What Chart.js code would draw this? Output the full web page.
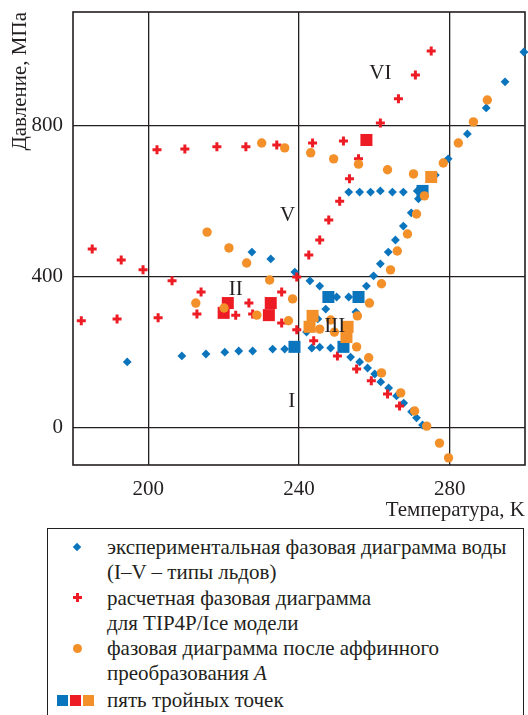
<!DOCTYPE html>
<html>
<head>
<meta charset="utf-8">
<script src="https://cdn.jsdelivr.net/npm/chart.js@4.4.0/dist/chart.umd.min.js"></script>
<style>
  body { margin: 0; background: #fff; font-family: "Liberation Serif", "Times New Roman", serif; color: #231f20; }
  #wrap { position: relative; width: 528px; height: 715px; overflow: hidden; }
  #box { position: absolute; left: 0; top: 0; width: 528px; height: 526px; }
  #legend { position: absolute; left: 47px; top: 528px; width: 477px; height: 220px; border: 1.5px solid #231f20; box-sizing: border-box; }
  .row { position: absolute; left: 59px; font-size: 21px; line-height: 25px; white-space: nowrap; }
  .mk { position: absolute; }
  .dia { width: 6px; height: 6px; background: #0a74bd; transform: rotate(45deg); }
  .crs1 { width: 9px; height: 3px; background: #ed1c24; }
  .crs2 { width: 3px; height: 9px; background: #ed1c24; }
  .dot { width: 9px; height: 9px; border-radius: 50%; background: #f4902a; }
  .sq { width: 11px; height: 11px; }
</style>
</head>
<body>
<div id="wrap">
  <div id="box"><canvas id="phase"></canvas></div>
  <div id="legend">
    <div class="mk dia" style="left:26px;top:15px"></div>
    <div class="row" style="top:6px">экспериментальная фазовая диаграмма воды<br>(I–V – типы льдов)</div>
    <div class="mk crs1" style="left:25px;top:67px"></div>
    <div class="mk crs2" style="left:28px;top:64px"></div>
    <div class="row" style="top:57px">расчетная фазовая диаграмма<br>для TIP4P/Ice модели</div>
    <div class="mk dot" style="left:25px;top:115px"></div>
    <div class="row" style="top:107px">фазовая диаграмма после аффинного<br>преобразования <i>A</i></div>
    <div class="mk sq" style="left:9px;top:166px;background:#0a74bd"></div>
    <div class="mk sq" style="left:22px;top:166px;background:#ed1c24"></div>
    <div class="mk sq" style="left:35px;top:166px;background:#f4902a"></div>
    <div class="row" style="top:159px">пять тройных точек</div>
  </div>
</div>
<script>
// axis ticks
const tickT = [200, 240, 280];
const tickP = [0, 400, 800];

// experimental phase diagram of water, [T (K), P (MPa)]
const experimental = [
  [194.4,173],[208.9,189],[215.3,194],[220.3,199],[224.0,202],[227.7,202],[233.0,207],[236.2,207],
  [243.4,210],[245.5,212],[248.4,210],
  [253.7,186],[256.1,173],[258.2,157],[260.1,141],[261.7,120],[263.8,104],[265.9,83],[267.8,64],
  [269.9,41],[271.2,25],[272.8,6],
  [242.0,252],[245.0,287],[247.1,313],
  [227.5,464],[232.5,446],[238.9,411],[242.9,388],[245.5,374],[250.0,345],[253.2,345],
  [255.1,305],
  [257.9,374],[259.8,401],[261.6,433],[263.7,464],[265.6,496],[267.7,533],[269.8,568],[271.7,605],
  [253.2,623],[256.1,623],[259.0,623],[261.6,626],[264.8,623],[267.7,623],[271.4,626],
  [276.2,668],[279.6,711],[284.7,777],[289.7,846],[294.7,915],[299.7,994]
];

// TIP4P/Ice model
const tip4p = [
  [185.1,472],[192.8,443],[198.6,417],[206.3,388],[214.0,358],[226.7,329],[235.4,358],[239.4,398],
  [242.6,456],[245.5,496],[247.9,549],[250.8,599],[253.4,658],[255.8,711],[261.6,806],[266.4,870],
  [270.9,933],[275.1,997],
  [182.2,282],[191.7,287],[202.6,290],[212.9,300],[223.2,297],[227.7,300],[235.4,276],[239.4,258],
  [243.9,229],[250.2,189],[255.3,154],[259.2,123],[263.5,88],[266.7,56],
  [202.3,735],[209.7,737],[218.2,743],[225.9,743],[234.1,748],[243.6,753],[251.8,758]
];

// after affine transformation A
const affine = [
  [230.1,753],[236.2,740],[243.1,727],[249.2,711],[255.8,697],[263.5,682],[270.4,671],
  [278.3,700],[282.3,753],[286.3,809],[290.0,867],
  [273.3,613],[271.2,565],[268.8,512],[266.1,467],[264.3,417],[261.9,380],[258.7,329],[255.5,295],
  [255.3,213],[258.5,184],[261.9,144],[267.0,91],[270.7,43],[273.9,3],[277.3,-42],[279.7,-81],
  [215.6,517],[221.4,475],[226.1,435],[232.2,390],[238.3,340],
  [212.6,329],[220.1,316],[228.8,297],[237.2,282],[245.5,260],[248.4,284],[249.4,252]
];

// five triple points for each diagram
const tripleExp = [[238.8,213],[251.8,213],[247.8,345],[255.8,345],[272.8,626]];
const tripleTip = [[221.1,329],[220.0,303],[232.5,329],[232.0,297],[257.9,761]];
const tripleAff = [[243.6,295],[242.8,266],[252.9,266],[252.6,239],[275.1,663]];

// ice labels
const iceNames = ['VI', 'V', 'II', 'III', 'I'];
const iceT = [261.6, 237.0, 223.2, 249.5, 238.1];
const iceP = [938, 560, 364, 266, 67];

const ink = '#231f20';
const blue = '#0a74bd', red = '#ed1c24', orange = '#f4902a';
const serif = '"Liberation Serif", "Times New Roman", serif';

function pts(arr) { return arr.map(p => ({ x: p[0], y: p[1] })); }

const frameAndLabels = {
  id: 'frameAndLabels',
  beforeDatasetsDraw(chart) {
    const a = chart.chartArea, ctx = chart.ctx;
    ctx.save();
    ctx.strokeStyle = ink;
    ctx.lineWidth = 1.6;
    ctx.strokeRect(a.left, a.top, a.right - a.left, a.bottom - a.top);
    ctx.restore();
  },
  afterDatasetsDraw(chart) {
    const ctx = chart.ctx, sx = chart.scales.x, sy = chart.scales.y;
    ctx.save();
    ctx.fillStyle = ink;
    ctx.font = '21px ' + serif;
    ctx.textAlign = 'center';
    ctx.textBaseline = 'middle';
    iceNames.forEach((n, i) => {
      ctx.fillText(n, sx.getPixelForValue(iceT[i]), sy.getPixelForValue(iceP[i]));
    });
    ctx.restore();
  }
};

new Chart(document.getElementById('phase'), {
  type: 'scatter',
  data: {
    datasets: [
      { data: pts(affine), pointStyle: 'circle', pointRadius: 4.7, backgroundColor: orange, borderWidth: 0, order: 0 },
      { data: pts(tripleAff), pointStyle: 'rect', pointRadius: 8.5, backgroundColor: orange, borderWidth: 0, order: 1 },
      { data: pts(tripleTip), pointStyle: 'rect', pointRadius: 8.5, backgroundColor: red, borderWidth: 0, order: 2 },
      { data: pts(tripleExp), pointStyle: 'rect', pointRadius: 8.5, backgroundColor: blue, borderWidth: 0, order: 3 },
      { data: pts(tip4p), pointStyle: 'cross', pointRadius: 4.5, borderColor: red, borderWidth: 3, order: 4 },
      { data: pts(experimental), pointStyle: 'rectRot', pointRadius: 4.4, backgroundColor: blue, borderWidth: 0, order: 5 }
    ]
  },
  options: {
    responsive: true,
    maintainAspectRatio: false,
    animation: false,
    events: [],
    clip: false,
    layout: { autoPadding: false, padding: { top: 12, right: 3, left: 0, bottom: 0 } },
    plugins: { legend: { display: false }, tooltip: { enabled: false } },
    scales: {
      x: {
        type: 'linear', min: 180, max: 300,
        afterBuildTicks: s => { s.ticks = tickT.map(v => ({ value: v })); },
        afterFit: s => { s.height = 61; s.paddingLeft = 0; s.paddingRight = 0; },
        grid: { color: ink, lineWidth: 1.3, drawTicks: false },
        border: { display: false },
        ticks: { color: ink, font: { family: serif, size: 21 }, padding: 12 },
        title: { display: true, text: 'Температура, K', align: 'end', color: ink,
                 font: { family: serif, size: 21 }, padding: { top: 0, bottom: 3 } }
      },
      y: {
        type: 'linear', min: -100, max: 1100,
        afterBuildTicks: s => { s.ticks = tickP.map(v => ({ value: v })); },
        afterFit: s => { s.width = 73; s.paddingTop = 0; s.paddingBottom = 0; },
        grid: { color: ink, lineWidth: 1.3, drawTicks: false },
        border: { display: false },
        ticks: { color: ink, font: { family: serif, size: 21 }, padding: 10 },
        title: { display: true, text: 'Давление, МПа', align: 'end', color: ink,
                 font: { family: serif, size: 21 }, padding: { top: 8, bottom: 0 } }
      }
    }
  },
  plugins: [frameAndLabels]
});
</script>
</body>
</html>
